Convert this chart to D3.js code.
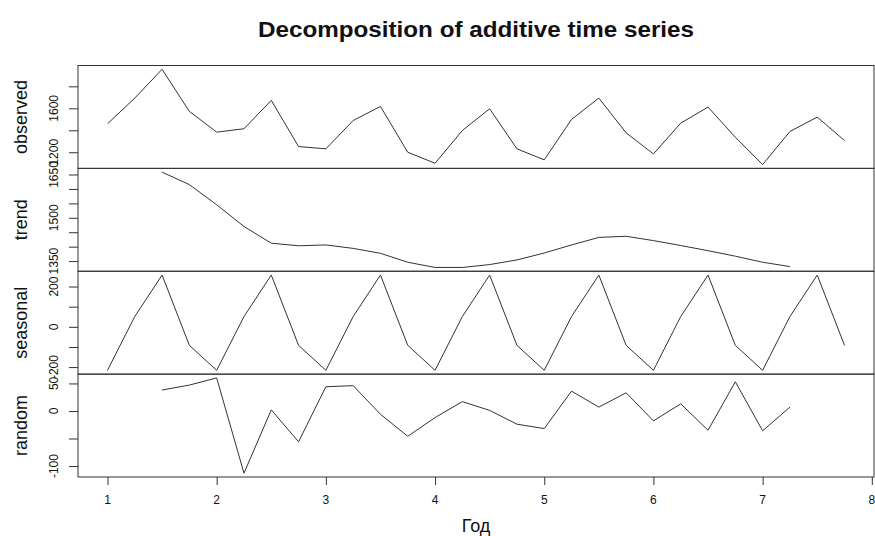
<!DOCTYPE html>
<html>
<head>
<meta charset="utf-8">
<script src="https://cdn.jsdelivr.net/npm/d3@7"></script>
<style>
  body { margin: 0; background: #fff; }
  svg { font-family: "Liberation Sans", Arial, Helvetica, sans-serif; }
</style>
</head>
<body>
<div id="graph"></div>
<script>
// ---------------------------//
//       DATA                 //
// ---------------------------//
// quarterly series, start = 1, frequency = 4
var tsStart = 1, tsFreq = 4;

var observed = [1459, 1693, 1955, 1572, 1383, 1414, 1672, 1252, 1231, 1489, 1617, 1200, 1100, 1398,
                1596, 1231, 1131, 1499, 1693, 1377, 1185, 1465, 1611, 1337, 1088, 1389, 1520, 1307];

// trend and random start two quarters later (moving average)
var trendStart = 1.5;
var trend = [1658, 1615, 1545, 1470, 1412, 1403, 1406, 1394, 1377, 1346, 1328, 1328,
             1338, 1354, 1378, 1406, 1432, 1436, 1421, 1404, 1386, 1367, 1346, 1331];

var seasonal = [-216, 51, 257, -92, -216, 51, 257, -92, -216, 51, 257, -92, -216, 51,
                257, -92, -216, 51, 257, -92, -216, 51, 257, -92, -216, 51, 257, -92];

var random = [38, 47, 60, -113, 2, -56, 44, 46, -6, -46, -12, 17,
              1, -24, -32, 36, 7, 33, -18, 13, -35, 53, -36, 7];

var panelNames = ["observed", "trend", "seasonal", "random"];

// tick values and the ones that carry a label
var observedTicks = [1200, 1400, 1600, 1800], observedLabels = [1200, 1600];
var trendTicks = [1350, 1400, 1450, 1500, 1550, 1600, 1650], trendLabels = [1350, 1500, 1650];
var seasonalTicks = [-200, -100, 0, 100, 200], seasonalLabels = [-200, 0, 200];
var randomTicks = [-100, -50, 0, 50], randomLabels = [-100, 0, 50];
var xTicks = [1, 2, 3, 4, 5, 6, 7, 8];

var titleText = "Decomposition of additive time series";
var xLabel = "Год";

// ---------------------------//
//       LAYOUT               //
// ---------------------------//
var W = 875, H = 536;
var plotLeft = 78, plotRight = 874, plotTop = 65.5, plotBottom = 477;
var panelH = (plotBottom - plotTop) / 4;

var svg = d3.select("#graph")
    .append("svg")
    .attr("width", W)
    .attr("height", H);

function toPoints(values, start) {
    return values.map(function(v, i) { return { t: start + i / tsFreq, v: v }; });
}

var series = [
    { pts: toPoints(observed, tsStart), ticks: observedTicks, labels: observedLabels },
    { pts: toPoints(trend, trendStart), ticks: trendTicks, labels: trendLabels },
    { pts: toPoints(seasonal, tsStart), ticks: seasonalTicks, labels: seasonalLabels },
    { pts: toPoints(random, trendStart), ticks: randomTicks, labels: randomLabels }
];

// x scale: R style, data range extended by 4%
var tExt = [tsStart, tsStart + (observed.length - 1) / tsFreq];
var tPad = (tExt[1] - tExt[0]) * 0.04;
var x = d3.scaleLinear()
    .domain([tExt[0] - tPad, tExt[1] + tPad])
    .range([plotLeft, plotRight]);

// ---------------------------//
//       PANELS               //
// ---------------------------//
series.forEach(function(s, k) {
    var y0 = plotTop + k * panelH, y1 = y0 + panelH;
    var ext = d3.extent(s.pts, function(d) { return d.v; });
    var pad = (ext[1] - ext[0]) * 0.04;
    var y = d3.scaleLinear()
        .domain([ext[0] - pad, ext[1] + pad])
        .range([y1, y0]);

    var g = svg.append("g");

    // line
    g.append("path")
        .datum(s.pts)
        .attr("fill", "none")
        .attr("stroke", "#333")
        .attr("stroke-width", 1)
        .attr("d", d3.line()
            .x(function(d) { return x(d.t); })
            .y(function(d) { return y(d.v); }));

    // box
    g.append("rect")
        .attr("x", plotLeft)
        .attr("y", y0)
        .attr("width", plotRight - plotLeft)
        .attr("height", panelH)
        .attr("fill", "none")
        .attr("stroke", "#333")
        .attr("stroke-width", 1);

    // y axis ticks
    var ax = g.append("g")
        .attr("transform", "translate(" + plotLeft + ",0)")
        .call(d3.axisLeft(y).tickValues(s.ticks).tickSize(9).tickFormat(""));
    ax.select(".domain").remove();
    ax.selectAll("line").attr("stroke", "#333");

    // y tick labels, parallel to the axis
    g.selectAll("text.ylab")
        .data(s.labels)
        .enter()
        .append("text")
        .attr("class", "ylab")
        .attr("transform", function(d) { return "translate(57.5," + y(d) + ") rotate(-90)"; })
        .attr("text-anchor", "middle")
        .style("font-size", "12px")
        .style("fill", "#111")
        .text(function(d) { return d; });

    // panel name
    g.append("text")
        .attr("transform", "translate(27," + ((y0 + y1) / 2) + ") rotate(-90)")
        .attr("text-anchor", "middle")
        .style("font-size", "18px")
        .style("fill", "#111")
        .text(panelNames[k]);
});

// ---------------------------//
//       X AXIS               //
// ---------------------------//
var xa = svg.append("g")
    .attr("transform", "translate(0," + plotBottom + ")")
    .call(d3.axisBottom(x).tickValues(xTicks).tickSize(8).tickFormat(""));
xa.select(".domain").remove();
xa.selectAll("line").attr("stroke", "#333");

svg.selectAll("text.xlab")
    .data(xTicks)
    .enter()
    .append("text")
    .attr("class", "xlab")
    .attr("x", function(d) { return x(d); })
    .attr("y", 503.5)
    .attr("text-anchor", "middle")
    .style("font-size", "12px")
    .style("fill", "#111")
    .text(function(d) { return d; });

svg.append("text")
    .attr("x", (plotLeft + plotRight) / 2)
    .attr("y", 532)
    .attr("text-anchor", "middle")
    .style("font-size", "18px")
    .style("fill", "#111")
    .text(xLabel);

// ---------------------------//
//       TITLE                //
// ---------------------------//
svg.append("text")
    .attr("x", (plotLeft + plotRight) / 2)
    .attr("y", 37)
    .attr("text-anchor", "middle")
    .attr("textLength", 436)
    .attr("lengthAdjust", "spacingAndGlyphs")
    .style("font-size", "22px")
    .style("font-weight", "bold")
    .style("fill", "#111")
    .text(titleText);
</script>
</body>
</html>
